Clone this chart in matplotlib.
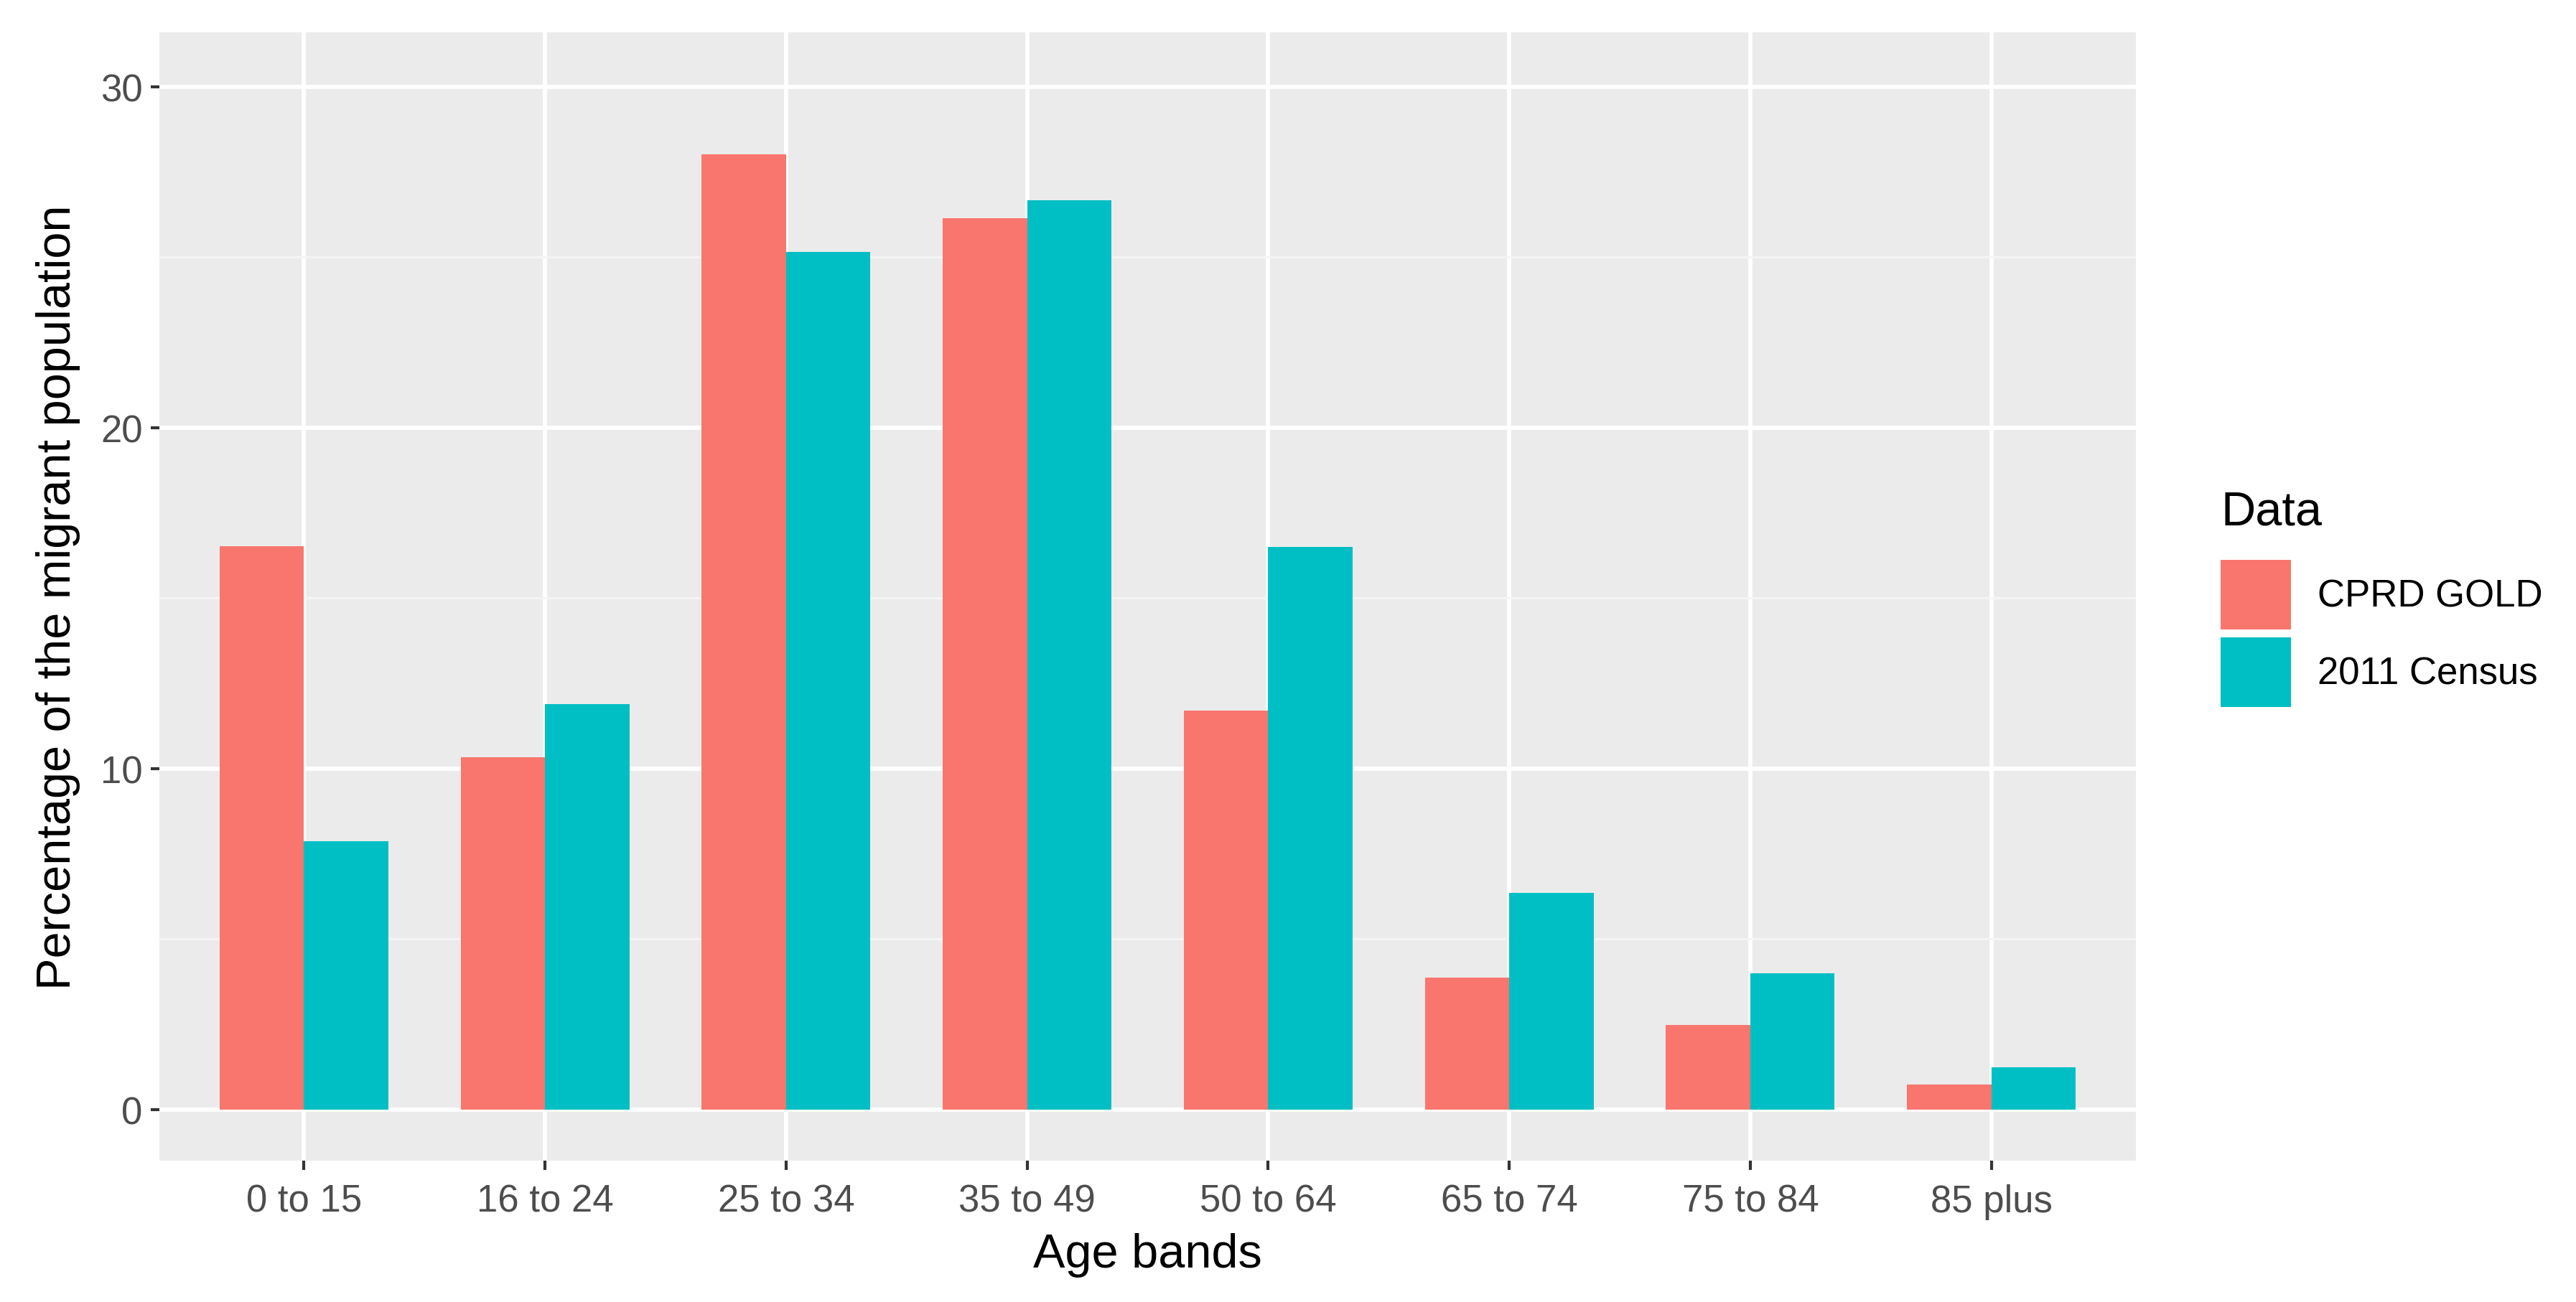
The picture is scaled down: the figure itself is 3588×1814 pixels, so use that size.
import numpy as np
import matplotlib.pyplot as plt
from matplotlib.patches import Patch

plt.rcParams['font.family'] = ['Liberation Sans', 'DejaVu Sans']

age_bands = ['0 to 15', '16 to 24', '25 to 34', '35 to 49', '50 to 64',
             '65 to 74', '75 to 84', '85 plus']
cprd_gold = [16.53, 10.33, 28.03, 26.14, 11.7, 3.86, 2.49, 0.73]
census_2011 = [7.88, 11.89, 25.16, 26.67, 16.51, 6.35, 4.0, 1.24]
series_names = ['CPRD GOLD', '2011 Census']
colours = ['#F8766D', '#00BFC4']

fig = plt.figure(figsize=(35.88, 18.15), dpi=100)
ax = fig.add_axes([222/3588, 1-1618/1815, (2975-222)/3588, (1618-46)/1815])

x = np.arange(len(age_bands))
w = 0.35
ax.bar(x - w/2, cprd_gold, w, color=colours[0], zorder=3)
ax.bar(x + w/2, census_2011, w, color=colours[1], zorder=3)

ax.set_facecolor('#EBEBEB')
for s in ax.spines.values():
    s.set_visible(False)
ax.set_xlim(-0.6, len(age_bands) - 0.4)
ax.set_ylim(-1.5, 31.6)
ax.set_yticks([0, 10, 20, 30])
ax.set_yticks([5, 15, 25], minor=True)
ax.set_xticks(x)
ax.set_xticklabels(age_bands)
ax.grid(True, which='major', color='white', linewidth=4.2, zorder=0)
ax.grid(True, which='minor', axis='y', color='#F5F5F5', linewidth=2.1, zorder=0)
ax.tick_params(which='major', length=9, width=3, color='#333333',
               labelsize=38, labelcolor='#4D4D4D', pad=8)
ax.tick_params(axis='x', pad=14)
ax.tick_params(which='minor', length=0)

ax.set_xlabel('Age bands', fontsize=48, color='black', labelpad=13)
ax.set_ylabel('Percentage of the migrant population', fontsize=48,
              color='black', labelpad=20)

handles = [Patch(facecolor=c, edgecolor='none') for c in colours]
leg = ax.legend(handles, series_names, title='Data', loc='upper left',
                bbox_to_anchor=(3072/3588, 1-662/1815), bbox_transform=fig.transFigure,
                frameon=False, fontsize=38, title_fontsize=48,
                handlelength=1.85, handleheight=2.45, labelspacing=0.2,
                handletextpad=0.7, borderaxespad=0)
leg._legend_box.align = 'left'
leg._legend_box.sep = 26

fig.savefig('out.png', dpi=100)
